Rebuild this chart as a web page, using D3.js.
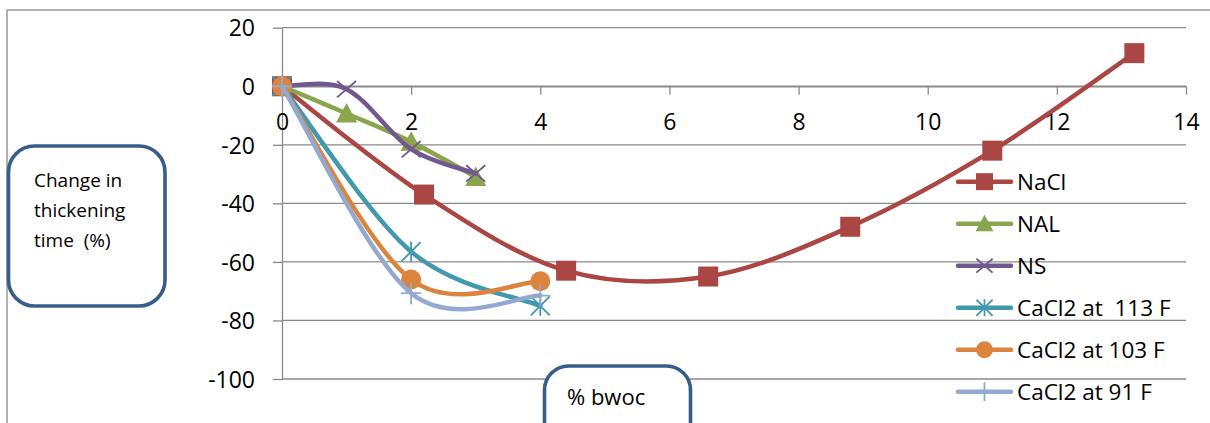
<!DOCTYPE html>
<html>
<head>
<meta charset="utf-8">
<script src="https://cdn.jsdelivr.net/npm/d3@7"></script>
<style>
  html, body { margin: 0; padding: 0; background: #fff; }
  svg { display: block; }
  text { font-family: "Open Sans", sans-serif; fill: #000; white-space: pre; }
</style>
</head>
<body>
<svg id="chart" width="1210" height="423"></svg>
<script>
// ---- data ----
const xTicks = [0, 2, 4, 6, 8, 10, 12, 14];
const yTicks = [20, 0, -20, -40, -60, -80, -100];

const naclX = [0, 2.2, 4.4, 6.6, 8.8, 11, 13.2];
const naclY = [0, -37, -63, -65, -48, -22, 11.3];

const nalX = [0, 1, 2, 3];
const nalY = [0, -9.3, -19, -31];

const nsX = [0, 1, 2, 3];
const nsY = [0, -1, -21.5, -29.8];

const ca113X = [0, 2, 4];
const ca113Y = [0, -56.5, -75];

const ca103X = [0, 2, 4];
const ca103Y = [0, -66, -66.6];

const ca91X = [0, 2, 4];
const ca91Y = [0, -70.7, -71.5];

const seriesNames = ["NaCl", "NAL", "NS", "CaCl2 at  113 F", "CaCl2 at 103 F", "CaCl2 at 91 F"];
const seriesColors = ["#AA4643", "#89A54E", "#71588F", "#4198AF", "#DB843D", "#93A9CF"];
const seriesMarkers = ["square", "triangle", "x", "asterisk", "circle", "plus"];
const seriesX = [naclX, nalX, nsX, ca113X, ca103X, ca91X];
const seriesY = [naclY, nalY, nsY, ca113Y, ca103Y, ca91Y];

const yLabelLines = ["Change in", "thickening", "time  (%)"];
const xLabel = "% bwoc";

// ---- setup ----
const svg = d3.select("#chart");
const x = d3.scaleLinear().domain([0, 14]).range([282, 1186]);
const y = d3.scaleLinear().domain([20, -100]).range([27.7, 379]);
const gridColor = "#898989";
const fmt = d => String(d);

// outer chart border
svg.append("rect").attr("x", 7).attr("y", 10).attr("width", 1400).attr("height", 600)
  .attr("fill", "none").attr("stroke", gridColor).attr("stroke-width", 1.3);

// gridlines
svg.append("g").selectAll("line").data(yTicks).join("line")
  .attr("x1", x(0)).attr("x2", x(14))
  .attr("y1", d => y(d)).attr("y2", d => y(d))
  .attr("stroke", gridColor).attr("stroke-width", 1.3);

// y axis
const yAxisG = svg.append("g").attr("transform", `translate(${x(0)},0)`)
  .call(d3.axisLeft(y).tickValues(yTicks).tickSize(9).tickSizeOuter(0).tickPadding(18).tickFormat(fmt));
yAxisG.select(".domain").attr("stroke", gridColor).attr("stroke-width", 1.3);
yAxisG.selectAll(".tick line").attr("stroke", gridColor).attr("stroke-width", 1.3);
yAxisG.selectAll(".tick text").attr("font-size", 23).attr("font-family", "Open Sans").attr("dy", "0.36em").attr("fill", "#000");

// x axis at y = 0
const xAxisG = svg.append("g").attr("transform", `translate(0,${y(0)})`)
  .call(d3.axisBottom(x).tickValues(xTicks).tickSize(8.5).tickSizeOuter(0).tickFormat(fmt));
xAxisG.select(".domain").attr("stroke", gridColor).attr("stroke-width", 1.3);
xAxisG.selectAll(".tick line").attr("stroke", gridColor).attr("stroke-width", 1.3);
xAxisG.selectAll(".tick text").attr("font-size", 23).attr("font-family", "Open Sans")
  .attr("y", 43.5).attr("dy", 0).attr("fill", "#000");

// Excel-like smoothing curve (Bezier with 1/6 tangents, duplicated ends)
function excelCurve(context) {
  let pts = [];
  return {
    areaStart() {}, areaEnd() {},
    lineStart() { pts = []; },
    point(px, py) { pts.push([+px, +py]); },
    lineEnd() {
      const n = pts.length;
      if (!n) return;
      context.moveTo(pts[0][0], pts[0][1]);
      for (let i = 0; i < n - 1; i++) {
        const p0 = pts[Math.max(i - 1, 0)], p1 = pts[i], p2 = pts[i + 1], p3 = pts[Math.min(i + 2, n - 1)];
        context.bezierCurveTo(
          p1[0] + (p2[0] - p0[0]) / 6, p1[1] + (p2[1] - p0[1]) / 6,
          p2[0] - (p3[0] - p1[0]) / 6, p2[1] - (p3[1] - p1[1]) / 6,
          p2[0], p2[1]);
      }
    }
  };
}

function drawMarker(g, type, cx, cy, color, s) {
  const h = s / 2;
  if (type === "square") {
    g.append("rect").attr("x", cx - h).attr("y", cy - h).attr("width", s).attr("height", s).attr("fill", color);
  } else if (type === "triangle") {
    g.append("path").attr("d", `M${cx},${cy - h * 1.05}L${cx + h * 1.05},${cy + h * 0.9}L${cx - h * 1.05},${cy + h * 0.9}Z`).attr("fill", color);
  } else if (type === "circle") {
    g.append("circle").attr("cx", cx).attr("cy", cy).attr("r", h).attr("fill", color);
  } else if (type === "x") {
    const w = h * 0.95, v = h * 0.82;
    g.append("path").attr("d", `M${cx - w},${cy - v}L${cx + w},${cy + v}M${cx - w},${cy + v}L${cx + w},${cy - v}`)
      .attr("stroke", color).attr("stroke-width", 1.8).attr("fill", "none");
  } else if (type === "asterisk") {
    const w = h * 0.95;
    g.append("path").attr("d", `M${cx - w},${cy - w}L${cx + w},${cy + w}M${cx - w},${cy + w}L${cx + w},${cy - w}M${cx},${cy - w * 1.05}L${cx},${cy + w * 1.05}`)
      .attr("stroke", color).attr("stroke-width", 1.8).attr("fill", "none");
  } else if (type === "plus") {
    g.append("path").attr("d", `M${cx - h},${cy}L${cx + h},${cy}M${cx},${cy - h * 1.1}L${cx},${cy + h * 1.1}`)
      .attr("stroke", color).attr("stroke-width", 1.8).attr("fill", "none");
  }
}

const line = d3.line().x(d => x(d[0])).y(d => y(d[1])).curve(excelCurve);

// series
seriesNames.forEach((name, i) => {
  const data = seriesX[i].map((v, j) => [v, seriesY[i][j]]);
  const g = svg.append("g");
  g.append("path").attr("d", line(data)).attr("fill", "none")
    .attr("stroke", seriesColors[i]).attr("stroke-width", 4.5)
    .attr("stroke-linejoin", "round").attr("stroke-linecap", "round");
  data.forEach(d => drawMarker(g, seriesMarkers[i], x(d[0]), y(d[1]), seriesColors[i], 20));
});

// legend
const legend = svg.append("g");
seriesNames.forEach((name, i) => {
  const ly = 181.7 + i * 42;
  const g = legend.append("g");
  g.append("line").attr("x1", 958).attr("x2", 1011).attr("y1", ly).attr("y2", ly)
    .attr("stroke", seriesColors[i]).attr("stroke-width", 4.5).attr("stroke-linecap", "round");
  drawMarker(g, seriesMarkers[i], 984.5, ly, seriesColors[i], 17);
  g.append("text").attr("x", 1017).attr("y", ly).attr("dy", "0.36em")
    .attr("font-size", 22.5).attr("xml:space", "preserve").text(name);
});

// y label box
const boxColor = "#385D8A";
svg.append("rect").attr("x", 8.5).attr("y", 146).attr("width", 156.5).attr("height", 160)
  .attr("rx", 26).attr("ry", 26).attr("fill", "#fff").attr("stroke", boxColor).attr("stroke-width", 3.6);
svg.append("g").selectAll("text").data(yLabelLines).join("text")
  .attr("x", 34).attr("y", (d, i) => 187 + i * 30).attr("font-size", 19)
  .attr("xml:space", "preserve").text(d => d);

// x label box
svg.append("rect").attr("x", 544.5).attr("y", 366).attr("width", 146).attr("height", 90)
  .attr("rx", 24).attr("ry", 24).attr("fill", "#fff").attr("stroke", boxColor).attr("stroke-width", 3.6);
svg.append("text").attr("x", 567).attr("y", 405).attr("font-size", 22).text(xLabel);
</script>
</body>
</html>
